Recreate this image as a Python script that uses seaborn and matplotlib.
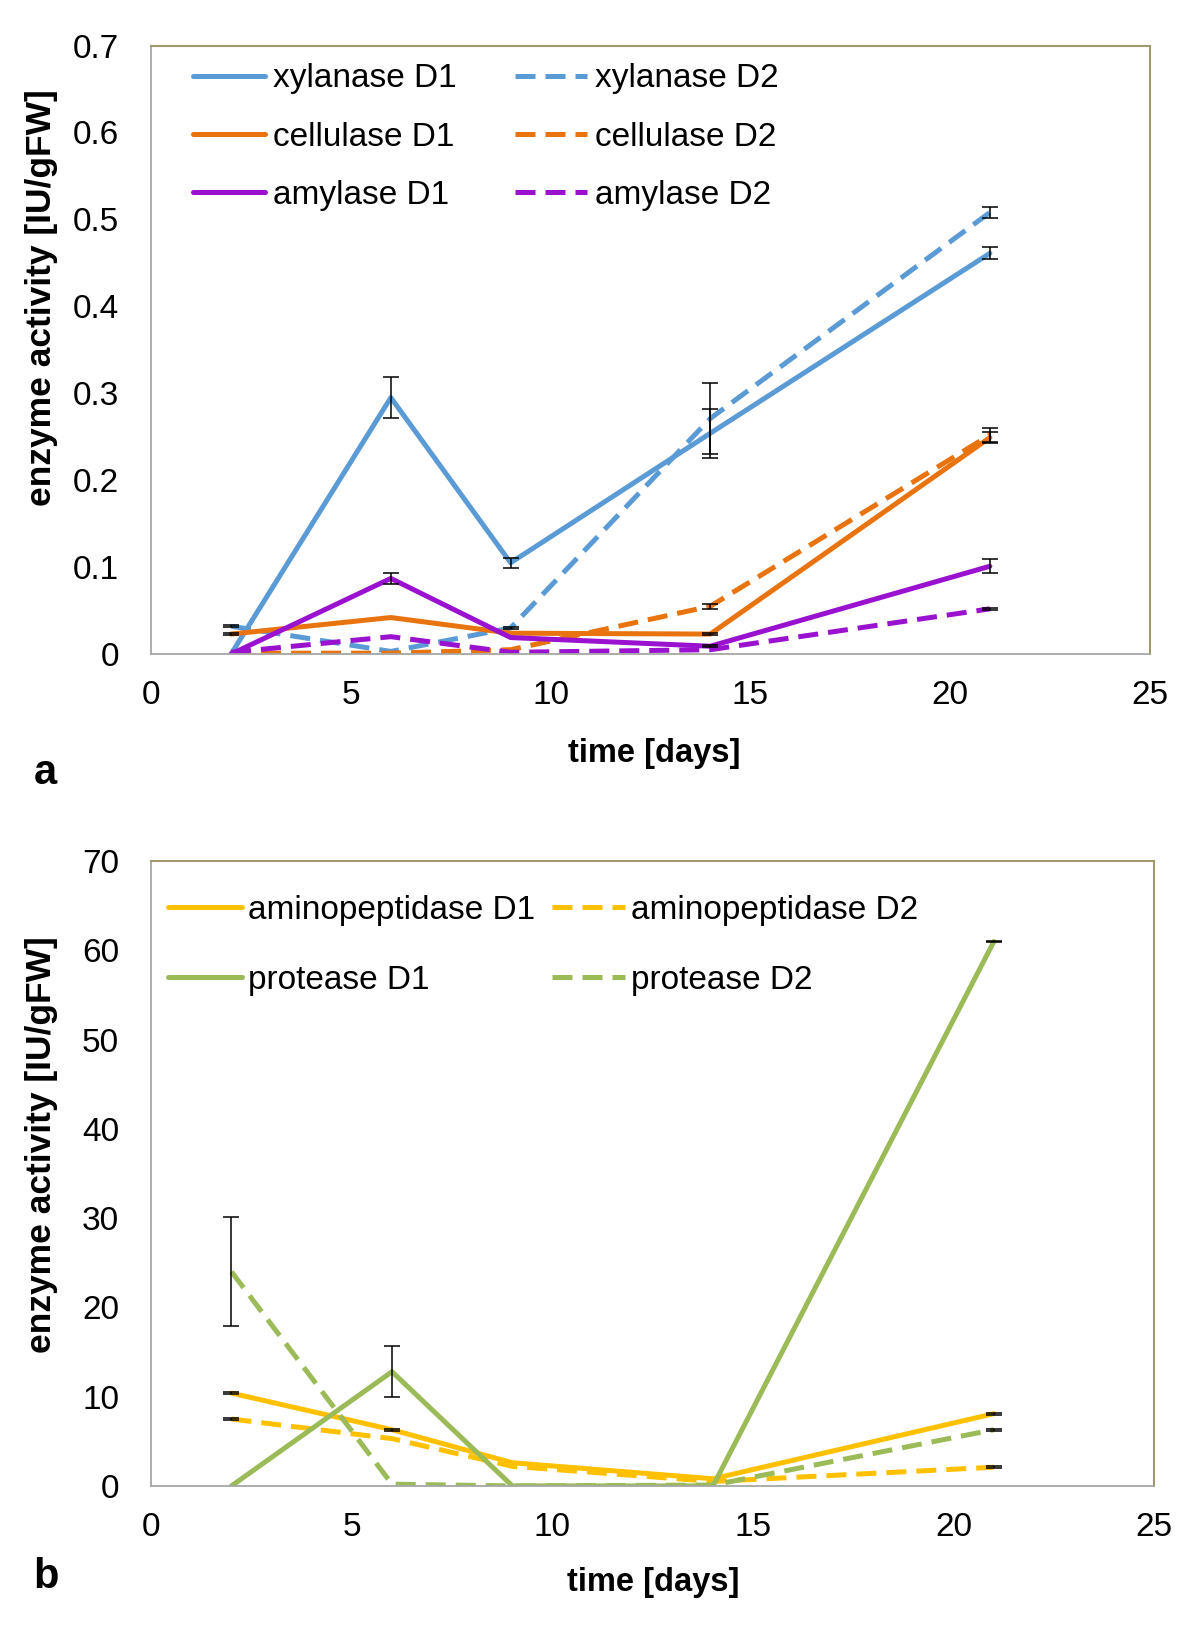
import numpy as np
import pandas as pd
import matplotlib
matplotlib.use('Agg')
import matplotlib.pyplot as plt
import seaborn as sns
from matplotlib.lines import Line2D
from matplotlib.ticker import FuncFormatter, MultipleLocator

# sampling days
days = [2, 6, 9, 14, 21]

# panel a - carbohydrate-degrading enzymes [IU/gFW]
xylanase_d1 = [0.0, 0.295, 0.105, 0.254, 0.461]
xylanase_d2 = [0.032, 0.003, 0.030, 0.271, 0.508]
cellulase_d1 = [0.023, 0.042, 0.024, 0.023, 0.249]
cellulase_d2 = [0.001, 0.001, 0.005, 0.055, 0.252]
amylase_d1 = [0.0, 0.087, 0.019, 0.009, 0.101]
amylase_d2 = [0.002, 0.020, 0.002, 0.005, 0.052]

xylanase_d1_err = [0, 0.024, 0.006, 0.028, 0.007]
xylanase_d2_err = [0.001, 0, 0.001, 0.041, 0.006]
cellulase_d1_err = [0.001, 0, 0, 0.001, 0.006]
cellulase_d2_err = [0, 0, 0, 0.003, 0.008]
amylase_d1_err = [0, 0.006, 0, 0.001, 0.008]
amylase_d2_err = [0, 0, 0, 0, 0.001]

# panel b - proteolytic enzymes [IU/gFW]
aminopeptidase_d1 = [10.4, 6.3, 2.6, 0.8, 8.1]
aminopeptidase_d2 = [7.5, 5.3, 2.2, 0.5, 2.1]
protease_d1 = [0.0, 12.8, 0.0, 0.0, 61.0]
protease_d2 = [24.0, 0.2, 0.0, 0.1, 6.3]

aminopeptidase_d1_err = [0.1, 0.1, 0, 0, 0.1]
aminopeptidase_d2_err = [0.1, 0, 0, 0, 0.1]
protease_d1_err = [0, 2.85, 0, 0, 0.1]
protease_d2_err = [6.1, 0, 0, 0, 0.1]

colors = {'xylanase': '#5b9bd5', 'cellulase': '#e8730f', 'amylase': '#9a11cf',
          'aminopeptidase': '#ffc000', 'protease': '#9bbb59'}

panel_a = [('xylanase', 'D1', xylanase_d1, xylanase_d1_err),
           ('cellulase', 'D1', cellulase_d1, cellulase_d1_err),
           ('amylase', 'D1', amylase_d1, amylase_d1_err),
           ('xylanase', 'D2', xylanase_d2, xylanase_d2_err),
           ('cellulase', 'D2', cellulase_d2, cellulase_d2_err),
           ('amylase', 'D2', amylase_d2, amylase_d2_err)]

panel_b = [('aminopeptidase', 'D1', aminopeptidase_d1, aminopeptidase_d1_err),
           ('protease', 'D1', protease_d1, protease_d1_err),
           ('aminopeptidase', 'D2', aminopeptidase_d2, aminopeptidase_d2_err),
           ('protease', 'D2', protease_d2, protease_d2_err)]

LW = 3.6
DASH = (4, 2)

sns.set_style('white')
plt.rcParams['font.family'] = ['Liberation Sans', 'DejaVu Sans']
plt.rcParams['text.color'] = 'black'
plt.rcParams['axes.labelcolor'] = 'black'


def long_table(series):
    rows = []
    for enzyme, digest, vals, errs in series:
        for d, v, e in zip(days, vals, errs):
            rows.append({'day': d, 'activity': v, 'err': e, 'enzyme': enzyme, 'digest': digest})
    return pd.DataFrame(rows)


def draw_panel(ax, series, ymax, ystep):
    df = long_table(series)
    enzymes = list(dict.fromkeys(s[0] for s in series))
    sns.lineplot(data=df, x='day', y='activity', hue='enzyme', style='digest',
                 hue_order=enzymes, style_order=['D1', 'D2'],
                 palette={e: colors[e] for e in enzymes},
                 dashes={'D1': '', 'D2': DASH}, linewidth=LW,
                 legend=False, errorbar=None, ax=ax)
    # error bars on top of the lines
    eb = df[df['err'] > 0]
    ax.errorbar(eb['day'], eb['activity'], yerr=eb['err'], fmt='none',
                ecolor='black', elinewidth=1.1, capsize=6, capthick=1.1, zorder=5)

    ax.set_xlim(0, 25)
    ax.set_ylim(0, ymax)
    ax.xaxis.set_major_locator(MultipleLocator(5))
    ax.yaxis.set_major_locator(MultipleLocator(ystep))
    ax.yaxis.set_major_formatter(FuncFormatter(lambda v, p: f'{v:g}'))
    ax.tick_params(axis='both', direction='out', length=8, width=1.2,
                   color='#a6a6a6', labelsize=24, labelcolor='black')
    ax.tick_params(axis='y', pad=15)
    ax.tick_params(axis='x', pad=11)
    for side in ['left', 'bottom']:
        ax.spines[side].set_color('#a6a6a6')
        ax.spines[side].set_linewidth(1.3)
    for side in ['top', 'right']:
        ax.spines[side].set_color('#9e9a6e')
        ax.spines[side].set_linewidth(1.5)
    ax.set_xlabel('time [days]', fontsize=23.5, fontweight='bold')
    ax.set_ylabel('enzyme activity [IU/gFW]', fontsize=25.5, fontweight='bold')


def legend_handles(series):
    handles, labels = [], []
    for enzyme, digest, _, _ in series:
        ls = '-' if digest == 'D1' else (0, DASH)
        handles.append(Line2D([], [], color=colors[enzyme], lw=LW, linestyle=ls))
        labels.append(f'{enzyme} {digest}')
    return handles, labels


fig = plt.figure(figsize=(12, 16.27), dpi=100)
ax_a = fig.add_axes([0.126, 0.598, 0.832, 0.374])
ax_b = fig.add_axes([0.126, 0.0867, 0.836, 0.384])

draw_panel(ax_a, panel_a, 0.7, 0.1)
draw_panel(ax_b, panel_b, 70, 10)

h, l = legend_handles(panel_a)
ax_a.legend(h, l, ncol=2, loc='upper left', bbox_to_anchor=(0.042, 0.971),
            frameon=False, fontsize=24, handlelength=2.15, handletextpad=0.25,
            columnspacing=1.75, labelspacing=0.82, borderpad=0, borderaxespad=0)

h, l = legend_handles(panel_b)
ax_b.legend(h, l, ncol=2, loc='upper left', bbox_to_anchor=(0.017, 0.946),
            frameon=False, fontsize=24, handlelength=2.2, handletextpad=0.18,
            columnspacing=0.52, labelspacing=1.16, borderpad=0, borderaxespad=0)

ax_a.xaxis.set_label_coords(0.504, -0.164)
ax_a.xaxis.label.set_va('center')
ax_a.yaxis.set_label_coords(-0.11, 0.585)
ax_a.yaxis.label.set_va('center')
ax_b.xaxis.set_label_coords(0.5, -0.155)
ax_b.xaxis.label.set_va('center')
ax_b.yaxis.set_label_coords(-0.109, 0.547)
ax_b.yaxis.label.set_va('center')

fig.text(0.038, 0.525, 'a', fontsize=30, fontweight='bold', ha='center', va='center')
fig.text(0.038, 0.031, 'b', fontsize=30, fontweight='bold', ha='center', va='center')

fig.savefig('out.png', dpi=100, facecolor='white')
